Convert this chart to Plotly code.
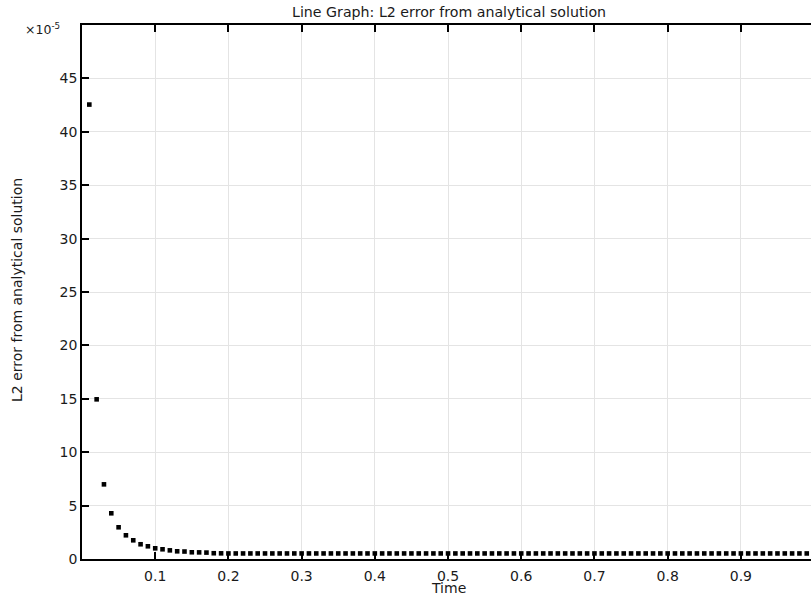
import plotly.graph_objects as go

# Data (values in units of 1e-5)
time = [round(0.01 * i, 2) for i in range(1, 101)]
early_err = [42.55, 14.95, 6.99, 4.28, 2.97, 2.22, 1.75, 1.38, 1.19, 1.00,
             0.91, 0.81, 0.72, 0.70, 0.63, 0.62, 0.60, 0.54, 0.53, 0.52]
late_err = [0.52] * (len(time) - len(early_err))
err = early_err + late_err

x_ticks = [0.1, 0.2, 0.3, 0.4, 0.5, 0.6, 0.7, 0.8, 0.9]
y_ticks = [0, 5, 10, 15, 20, 25, 30, 35, 40, 45]
y_range = [0, 50]

FONT = "DejaVu Sans"
TXT = "#1a1a1a"

W, H = 811, 597
ML, MT, MB = 82, 25, 38
PW = W - ML
PH = H - MT - MB

fig = go.Figure()
fig.add_trace(go.Scatter(
    x=time, y=err, mode="markers",
    marker=dict(symbol="square", size=4.6, color="black", line=dict(width=0)),
    showlegend=False,
))

axis_common = dict(
    showline=True, linecolor="black", linewidth=1.5,
    ticks="inside", ticklen=7, tickcolor="black", tickwidth=1.5,
    showgrid=True, gridcolor="#e4e4e4", gridwidth=1,
    zeroline=False,
    tickfont=dict(family=FONT, size=14, color=TXT),
)

fig.update_layout(
    width=W, height=H,
    margin=dict(l=ML, r=0, t=MT, b=MB, autoexpand=False),
    plot_bgcolor="white", paper_bgcolor="white",
    font=dict(family=FONT, size=12, color=TXT),
    xaxis=dict(range=[0, 0.9958], tickvals=x_ticks, ticklabelstandoff=3,
               mirror="ticks", **axis_common),
    yaxis=dict(range=y_range, tickvals=y_ticks, mirror=False, **axis_common),
    # right-hand ticks only (the right spine lies just beyond the window)
    yaxis2=dict(range=y_range, tickvals=y_ticks, overlaying="y", side="right",
                showline=False, showgrid=False, zeroline=False,
                ticks="inside", ticklen=4, tickcolor="black", tickwidth=1.5,
                showticklabels=False),
    annotations=[
        dict(text="Line Graph: L2 error from analytical solution",
             xref="paper", yref="paper", x=(448.5 - ML) / PW, y=1,
             yshift=13, xanchor="center", yanchor="middle", showarrow=False,
             font=dict(family=FONT, size=14.2, color=TXT)),
        dict(text="Time",
             xref="paper", yref="paper", x=(448 - ML) / PW, y=0,
             yshift=-28.7, xanchor="center", yanchor="middle", showarrow=False,
             font=dict(family=FONT, size=14, color=TXT)),
        dict(text="L2 error from analytical solution", textangle=-90,
             xref="paper", yref="paper", x=(17 - ML) / PW, y=(559 - 290) / PH,
             xanchor="center", yanchor="middle", showarrow=False,
             font=dict(family=FONT, size=14, color=TXT)),
        dict(text="×10<sup>-5</sup>",
             xref="paper", yref="paper", x=(62 - ML) / PW, y=1,
             yshift=-14, xanchor="right", yanchor="bottom", showarrow=False,
             font=dict(family=FONT, size=12.5, color=TXT)),
    ],
)

fig.write_html(
    "out.html",
    config={"displayModeBar": False},
    post_script="document.body.style.margin='0';"
                "document.documentElement.style.overflow='hidden';"
                "document.body.style.overflow='hidden';",
)
